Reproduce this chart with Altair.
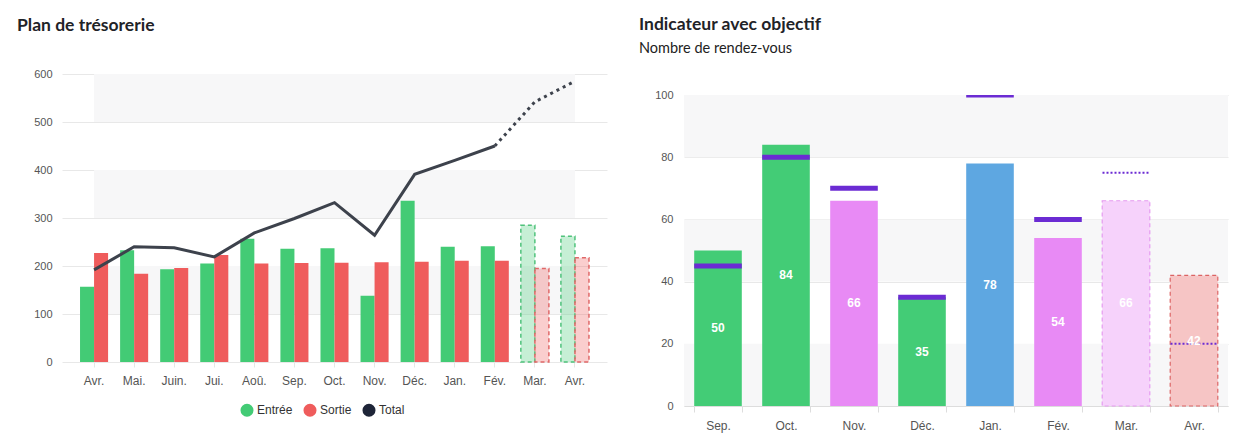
import json
import altair as alt
import pandas as pd

# ---------------- Données : Plan de trésorerie ----------------
mois_tres = ["Avr.", "Mai.", "Juin.", "Jui.", "Aoû.", "Sep.", "Oct.", "Nov.", "Déc.", "Jan.", "Fév.", "Mar.", "Avr."]
entree = [157, 233, 193, 205, 257, 236, 237, 138, 336, 240, 241, 285, 262]
sortie = [227, 184, 196, 223, 205, 206, 207, 208, 209, 211, 211, 195, 217]
total = [192, 240, 238, 219, 269, 299, 332, 264, 391, 420, 450, 542, 585]
prevision = [False, False, False, False, False, False, False, False, False, False, False, True, True]
bandes_tres = [(100, 200), (300, 400), (500, 600)]
ticks_tres = [0, 100, 200, 300, 400, 500, 600]

# ---------------- Données : Indicateur avec objectif ----------------
mois_rdv = ["Sep.", "Oct.", "Nov.", "Déc.", "Jan.", "Fév.", "Mar.", "Avr."]
rdv = [50, 84, 66, 35, 78, 54, 66, 42]
objectif = [45, 80, 70, 35, 100, 60, 75, 20]
statut = ["Atteint", "Atteint", "Sous", "Atteint", "En cours", "Sous", "Prévision", "Prévision alerte"]
prevision_rdv = [False, False, False, False, False, False, True, True]
bandes_rdv = [(0, 20), (40, 60), (80, 100)]
ticks_rdv = [0, 20, 40, 60, 80, 100]

LABEL_FONT = "Liberation Sans"
TITLE_FONT = "Lato"

# ---------- tables ----------
rows = []
for i in range(len(mois_tres)):
    rows.append({"idx": i, "serie": "Entrée", "valeur": entree[i], "prev": prevision[i]})
    rows.append({"idx": i, "serie": "Sortie", "valeur": sortie[i], "prev": prevision[i]})
df_barres = pd.DataFrame(rows)
df_total = pd.DataFrame({"idx": list(range(len(mois_tres))), "total": total})
rows_b = []
for k, (b, h) in enumerate(bandes_tres):
    rows_b.append({"bande": k, "idx": 0, "bas": b, "haut": h})
    rows_b.append({"bande": k, "idx": len(mois_tres) - 1, "bas": b, "haut": h})
df_bandes = pd.DataFrame(rows_b)

lab_tres = "%s[datum.value]" % json.dumps(mois_tres, ensure_ascii=False)
lab_rdv = "%s[datum.value]" % json.dumps(mois_rdv, ensure_ascii=False)

x_tres_scale = alt.Scale(paddingInner=0.3, paddingOuter=0.45)
y_tres_scale = alt.Scale(domain=[0, 600], nice=False)


def x_tres():
    return alt.X("idx:O", title=None, scale=x_tres_scale,
                 axis=alt.Axis(labelExpr=lab_tres, labelAngle=0, domain=False, ticks=True,
                               tickColor="#e6e6e6", tickSize=5, labelPadding=8,
                               labelFont=LABEL_FONT, labelFontSize=12, labelColor="#555555", grid=False))


def y_tres(field):
    return alt.Y(field, title=None, scale=y_tres_scale,
                 axis=alt.Axis(values=ticks_tres, domain=False, ticks=False, labelPadding=10,
                               labelFont=LABEL_FONT, labelFontSize=11, labelColor="#555555",
                               gridColor="#e8e8e8", minExtent=45))


fond = alt.Chart(df_bandes).mark_area(color="#f7f7f8").encode(
    x=x_tres(), y=y_tres("haut:Q"), y2="bas:Q", detail="bande:N")

couleur = alt.Color("serie:N", scale=alt.Scale(domain=["Entrée", "Sortie", "Total"],
                                               range=["#43cb75", "#ef5c5c", "#1e2538"]),
                    legend=alt.Legend(title=None, orient="none", legendX=178, legendY=329,
                                      direction="horizontal", symbolType="circle", symbolSize=170,
                                      symbolOpacity=1, symbolStrokeWidth=0,
                                      labelFont=LABEL_FONT, labelFontSize=12, labelColor="#333333",
                                      columnPadding=10, labelOffset=3))
x_off = alt.XOffset("serie:N", scale=alt.Scale(domain=["Entrée", "Sortie"], paddingInner=0))

barres = alt.Chart(df_barres).transform_filter("!datum.prev").mark_bar().encode(
    x=x_tres(), xOffset=x_off, y=y_tres("valeur:Q"), color=couleur)

barres_prev = alt.Chart(df_barres).transform_filter("datum.prev").mark_bar(
    fillOpacity=0.3, strokeDash=[4, 3], strokeWidth=1.5).encode(
    x=x_tres(), xOffset=x_off, y=y_tres("valeur:Q"), color=couleur,
    stroke=alt.Stroke("serie:N", scale=alt.Scale(domain=["Entrée", "Sortie"], range=["#4fc27b", "#e06868"]),
                      legend=None))

ligne = alt.Chart(df_total).transform_filter("datum.idx <= 10").mark_line(
    color="#3d424c", strokeWidth=3).encode(x=x_tres(), y=y_tres("total:Q"))
ligne_prev = alt.Chart(df_total).transform_filter("datum.idx >= 10").mark_line(
    color="#3d424c", strokeWidth=3, strokeDash=[3, 4]).encode(x=x_tres(), y=y_tres("total:Q"))

gauche = alt.layer(fond, barres, barres_prev, ligne, ligne_prev).properties(
    width=545, height=288,
    title=alt.TitleParams("Plan de trésorerie", anchor="start", frame="bounds", font=TITLE_FONT,
                          fontSize=17.5, fontWeight="bold", color="#1f2328", offset=34))

# ---------- Indicateur ----------
df_rdv = pd.DataFrame({"idx": list(range(len(mois_rdv))), "rdv": rdv, "objectif": objectif,
                       "statut": statut, "prev": prevision_rdv})
df_bandes_r = pd.DataFrame([{"bas": b, "haut": h} for b, h in bandes_rdv])

# zone de tracé plus haute que l'échelle 0-100 (le haut du graphique de gauche est plus haut)
H_RDV = 332
x_rdv_scale = alt.Scale(paddingInner=0.3, paddingOuter=0.15)
y_rdv_scale = alt.Scale(domain=[0, 100 * H_RDV / 311], nice=False)
DEMI_EP = 2.5 * 100 / 311  # demi-épaisseur du trait d'objectif (en unités de l'axe)


def x_rdv():
    return alt.X("idx:O", title=None, scale=x_rdv_scale,
                 axis=alt.Axis(labelExpr=lab_rdv, labelAngle=0, tickBand="extent", domainColor="#dddddd",
                               tickColor="#dddddd", tickSize=6, labelPadding=8, grid=False,
                               labelFont=LABEL_FONT, labelFontSize=12, labelColor="#555555"))


def y_rdv(field):
    return alt.Y(field, title=None, scale=y_rdv_scale,
                 axis=alt.Axis(values=ticks_rdv, domain=False, ticks=False, labelPadding=11,
                               labelFont=LABEL_FONT, labelFontSize=11, labelColor="#555555",
                               gridColor="#e8e8e8", minExtent=45))


fond_r = alt.Chart(df_bandes_r).mark_rect(color="#f7f7f8").encode(y=y_rdv("haut:Q"), y2="bas:Q")

coul_r = alt.Color("statut:N", scale=alt.Scale(
    domain=["Atteint", "Sous", "En cours", "Prévision", "Prévision alerte"],
    range=["#43cc76", "#e88af5", "#5ea7e1", "#f6d2fb", "#f6c5c5"]), legend=None)

barres_r = alt.Chart(df_rdv).transform_filter("!datum.prev").mark_bar().encode(
    x=x_rdv(), y=y_rdv("rdv:Q"), color=coul_r)
barres_r_prev = alt.Chart(df_rdv).transform_filter("datum.prev").mark_bar(
    strokeDash=[4, 3], strokeWidth=1.2).encode(
    x=x_rdv(), y=y_rdv("rdv:Q"), color=coul_r,
    stroke=alt.Stroke("statut:N", scale=alt.Scale(domain=["Prévision", "Prévision alerte"],
                                                  range=["#e59bf0", "#dc6464"]), legend=None))

# trait d'objectif (coupé au bord haut de l'échelle 0-100)
obj = alt.Chart(df_rdv).transform_filter("!datum.prev").transform_calculate(
    o_haut="min(datum.objectif + %f, 100)" % DEMI_EP,
    o_bas="datum.objectif - %f" % DEMI_EP).mark_bar(color="#6b2bd3").encode(
    x=x_rdv(), y=y_rdv("o_haut:Q"), y2="o_bas:Q")
obj_prev = alt.Chart(df_rdv).transform_filter("datum.prev").mark_rule(
    color="#6b2bd3", strokeWidth=2, strokeDash=[2, 2], xOffset=-23.5, x2Offset=23.5).encode(
    x=x_rdv(), x2="idx:O", y=y_rdv("objectif:Q"))

etiq = alt.Chart(df_rdv).transform_calculate(milieu="datum.rdv / 2").mark_text(
    color="white", font=LABEL_FONT, fontSize=12, fontWeight="bold", baseline="middle").encode(
    x=x_rdv(), y=y_rdv("milieu:Q"), text="rdv:Q")

droite = alt.layer(fond_r, barres_r, barres_r_prev, obj, obj_prev, etiq).properties(
    width=544, height=H_RDV,
    title=alt.TitleParams("Indicateur avec objectif", subtitle="Nombre de rendez-vous", anchor="start",
                          frame="bounds", font=TITLE_FONT, fontSize=17.5, fontWeight="bold", color="#1f2328",
                          subtitleFont=TITLE_FONT, subtitleFontSize=14.5, subtitleColor="#222222",
                          subtitlePadding=8, offset=19))

chart = alt.hconcat(gauche, droite, spacing=32).resolve_scale(
    color="independent", stroke="independent", x="independent", y="independent").properties(
    padding={"left": 9, "top": 8, "right": 5, "bottom": 5}
).configure_view(stroke=None)

chart.save("out.html", embed_options={"renderer": "svg", "actions": False})
